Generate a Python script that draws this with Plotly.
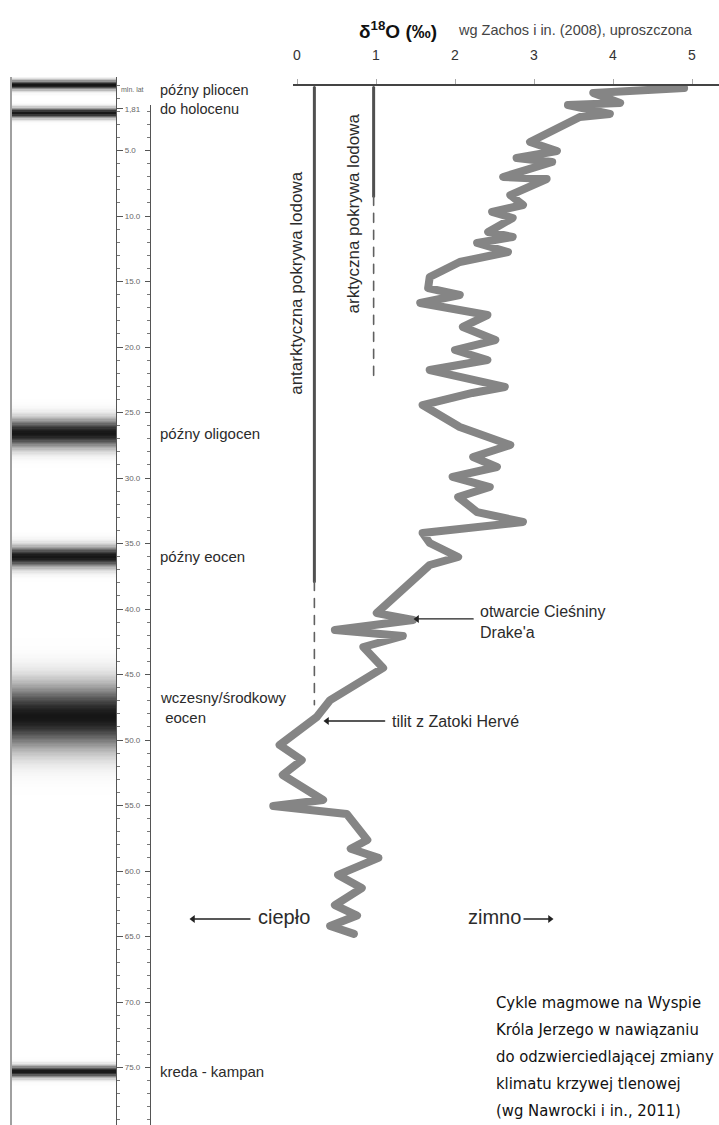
import numpy as np
import plotly.graph_objects as go

W, H = 719, 1125

# ---------------- data ----------------
# oxygen isotope curve (Zachos et al. 2008, simplified): age [Ma] and delta18O [permil]
age = [0.23, 0.61, 1.37, 1.53, 2.21, 2.44, 4.35, 5.04, 5.57, 5.88, 7.02, 7.18, 8.40, 9.16,
       9.69, 10.15, 11.22, 11.60, 12.06, 12.75, 13.51, 14.66, 15.50, 16.03, 16.64, 17.56,
       18.47, 19.47, 20.23, 20.99, 21.76, 23.05, 23.51, 24.43, 26.11, 27.48, 28.40, 29.16,
       29.92, 30.69, 31.45, 32.60, 33.36, 34.20, 34.96, 36.03, 36.64, 40.31, 40.84, 41.60,
       42.06, 42.90, 44.50, 46.95, 48.24, 49.47, 50.38, 51.53, 52.67, 54.58, 55.04, 55.65,
       57.63, 58.30, 59.00, 60.30, 61.30, 62.60, 63.40, 64.20, 64.80]
d18o = [4.90, 3.75, 4.09, 3.43, 3.96, 3.58, 2.95, 3.29, 2.78, 3.23, 2.61, 3.16, 2.70, 2.86,
        2.47, 2.73, 2.42, 2.73, 2.28, 2.67, 2.06, 1.68, 1.66, 2.06, 1.56, 2.41,
        2.10, 2.51, 2.00, 2.41, 1.68, 2.63, 2.22, 1.59, 2.06, 2.70, 2.23, 2.53,
        1.97, 2.44, 2.04, 2.28, 2.86, 1.59, 1.68, 2.04, 1.68, 1.01, 1.47, 0.48,
        1.34, 0.84, 1.09, 0.42, 0.25, 0.00, -0.22, 0.06, -0.18, 0.33, -0.30, 0.63,
        0.89, 0.68, 1.03, 0.52, 0.82, 0.48, 0.76, 0.42, 0.72]

# ice sheets
ice_labels = ["antarktyczna pokrywa lodowa", "arktyczna pokrywa lodowa"]
ice_delta = [0.22, 0.97]
ice_solid_end = [37.9, 8.5]
ice_dashed_end = [47.3, 22.5]
ice_label_age = [15.1, 9.8]

# magmatic cycles (bands in the left column): centre age [Ma], spread [Ma]
band_age = [0.0, 2.14, 26.6, 36.03, 48.24, 75.34]
band_spread = [0.25, 0.26, 0.75, 0.55, 1.7, 0.3]
band_labels = ["późny pliocen<br>do holocenu", "późny oligocen", "późny eocen",
               "wczesny/środkowy<br> eocen", "kreda - kampan"]
band_label_age = [1.1, 26.6, 36.03, 47.5, 75.34]

# events marked with arrows
event_labels = ["otwarcie Cieśniny<br>Drake'a", "tilit z Zatoki Hervé"]
event_age = [40.76, 48.55]
event_head = [1.52, 0.38]
event_tail = [2.23, 1.11]

# scales
age_ticks = [1.81, 5, 10, 15, 20, 25, 30, 35, 40, 45, 50, 55, 60, 65, 70, 75]
age_ticktext = ["1,81"] + [f"{v:.1f}" for v in age_ticks[1:]]
d18o_ticks = [0, 1, 2, 3, 4, 5]

caption = ["Cykle magmowe na Wyspie", "Króla Jerzego w nawiązaniu",
           "do odzwierciedlającej zmiany", "klimatu krzywej tlenowej",
           "(wg Nawrocki i in., 2011)"]

# ---------------- calibration of the page ----------------
Y_TOP_PX, AXIS_PX, PX_PER_MA = 77, 85, 13.1
X0_PX, PX_PER_UNIT = 297, 79
age_top = (Y_TOP_PX - AXIS_PX) / PX_PER_MA
age_bot = (H - AXIS_PX) / PX_PER_MA
ydom = [0, 1 - Y_TOP_PX / H]


def px(x):
    return x / W


def py(y):
    return 1 - y / H


def dx(xpix):
    return (xpix - X0_PX) / PX_PER_UNIT


def ay_(ypix):
    return (ypix - AXIS_PX) / PX_PER_MA


curve_dom_left = 150
curve_range = [dx(curve_dom_left), dx(W)]
disp_dom_left = 293
disp_range = [dx(disp_dom_left), dx(W)]

fig = go.Figure()

# left column: magmatic cycles as blurred bands
grid = np.arange(age_top, age_bot + 0.1, 0.1)
zcol = np.zeros_like(grid)
for c, s in zip(band_age, band_spread):
    zcol = np.maximum(zcol, np.exp(-0.5 * ((grid - c) / s) ** 2))
fig.add_trace(go.Heatmap(x=[0.5], y=grid, z=[[v] for v in zcol], xaxis="x2", yaxis="y",
                         colorscale=[[0, "#ffffff"], [1, "#161616"]], zmin=0, zmax=1,
                         showscale=False, hoverinfo="skip"))

# ice sheet lines
for d, se, de in zip(ice_delta, ice_solid_end, ice_dashed_end):
    fig.add_trace(go.Scatter(x=[d, d], y=[0.2, se], mode="lines",
                             line=dict(color="#505050", width=3), xaxis="x", yaxis="y",
                             hoverinfo="skip", showlegend=False))
    fig.add_trace(go.Scatter(x=[d, d], y=[se, de], mode="lines",
                             line=dict(color="#606060", width=1.6, dash="9px,8px"),
                             xaxis="x", yaxis="y", hoverinfo="skip", showlegend=False))

# oxygen isotope curve
fig.add_trace(go.Scatter(x=d18o, y=age, mode="lines",
                         line=dict(color="#858585", width=8),
                         xaxis="x", yaxis="y", hoverinfo="skip", showlegend=False))

# arrows (events + warm/cold)
arrow_age = event_age + [ay_(919), ay_(919)]
arrow_head = event_head + [dx(193), dx(550)]
arrow_tail = event_tail + [dx(250), dx(524)]
for a, h, t in zip(arrow_age, arrow_head, arrow_tail):
    sym = "triangle-left" if h < t else "triangle-right"
    fig.add_trace(go.Scatter(x=[t, h], y=[a, a], mode="lines",
                             line=dict(color="#222", width=1.3),
                             xaxis="x", yaxis="y", hoverinfo="skip", showlegend=False))
    fig.add_trace(go.Scatter(x=[h], y=[a], mode="markers",
                             marker=dict(symbol=sym, size=7, color="#222"),
                             xaxis="x", yaxis="y", hoverinfo="skip", showlegend=False))

# carriers for the display axes
for xa, ya in [("x3", "y"), ("x2", "y2"), ("x2", "y3")]:
    fig.add_trace(go.Scatter(x=[None], y=[None], xaxis=xa, yaxis=ya, mode="lines",
                             hoverinfo="skip", showlegend=False))

font_main = "Liberation Sans, Arial, sans-serif"
txt = "#2b2b2b"

fig.update_layout(
    width=W, height=H, margin=dict(l=0, r=0, t=0, b=0),
    paper_bgcolor="white", plot_bgcolor="rgba(0,0,0,0)",
    font=dict(family=font_main, color=txt),
    showlegend=False,
    xaxis=dict(domain=[px(curve_dom_left), 1], range=curve_range, visible=False,
               anchor="y"),
    xaxis2=dict(domain=[px(12), px(116)], range=[0, 1], visible=False, anchor="y"),
    xaxis3=dict(domain=[px(disp_dom_left), 1], range=disp_range, anchor="free",
                position=py(AXIS_PX), side="top", showline=True, linecolor="#444",
                linewidth=1.5, ticks="outside", ticklen=5, tickcolor="#aaa",
                tickvals=d18o_ticks, tickfont=dict(size=14, color="#333"),
                ticklabelstandoff=14, showgrid=False, zeroline=False),
    yaxis=dict(domain=ydom, range=[age_bot, age_top], anchor="x2", side="left",
               showline=True, linecolor="#a0a0a0", linewidth=2, ticks="",
               showticklabels=False, showgrid=False, zeroline=False),
    yaxis2=dict(overlaying="y", range=[age_bot, age_top], anchor="free", position=px(116),
                side="right", showline=True, linecolor="#555", linewidth=1.2,
                ticks="outside", ticklen=6, tickcolor="#555", tickvals=age_ticks,
                ticktext=age_ticktext, tickfont=dict(size=8, color="#666"),
                minor=dict(ticks="outside", ticklen=3, tickcolor="#777", tickmode="linear",
                           tick0=0, dtick=1),
                showgrid=False, zeroline=False),
    yaxis3=dict(domain=[0, py(105)], range=[age_bot, ay_(105)],
                anchor="free", position=px(150), side="left", showline=True,
                linecolor="#555", linewidth=1.2, ticks="outside", ticklen=5,
                tickcolor="#555", tickvals=age_ticks[1:], showticklabels=False,
                minor=dict(ticks="outside", ticklen=3, tickcolor="#777", tickmode="linear",
                           tick0=0, dtick=1),
                showgrid=False, zeroline=False),
)

ann = []


def ptext(xp, yp, text, size, color=txt, xanchor="left", **kw):
    ann.append(dict(x=px(xp), y=py(yp), xref="paper", yref="paper", showarrow=False,
                    xanchor=xanchor, yanchor="middle", align="left", text=text,
                    font=dict(size=size, color=color, **kw)))


# header
ptext(398, 30, "<b>δ<sup>18</sup>O (‰)</b>", 19, color="#111", xanchor="center")
ptext(456, 30, "wg Zachos i in. (2008), uproszczona", 14.5, color="#444")
ptext(119, 90, "mln. lat", 7, color="#666")

# band labels
for i, (t, a) in enumerate(zip(band_labels, band_label_age)):
    ptext(158, AXIS_PX + a * PX_PER_MA, t, 14.5 if i == 0 else 15)

# ice sheet labels
ann.append(dict(x=dx(297), y=ice_label_age[0], xref="x", yref="y", showarrow=False,
                xanchor="center", yanchor="middle",
                text=ice_labels[0], textangle=-90, font=dict(size=17, color=txt)))
ann.append(dict(x=dx(353), y=ice_label_age[1], xref="x", yref="y", showarrow=False,
                xanchor="center", yanchor="middle",
                text=ice_labels[1], textangle=-90, font=dict(size=17, color=txt)))

# event labels
ann.append(dict(x=dx(478), y=41.0, xref="x", yref="y", showarrow=False, xanchor="left",
                yanchor="middle", align="left", text=event_labels[0],
                font=dict(size=16, color=txt)))
ann.append(dict(x=dx(390), y=event_age[1], xref="x", yref="y", showarrow=False,
                xanchor="left", yanchor="middle", text=event_labels[1],
                font=dict(size=16, color=txt)))

# warm / cold
ptext(256, 917, "ciepło", 20)
ptext(466, 917, "zimno", 20)

# caption
for i, line in enumerate(caption):
    ptext(494, 1002 + 27 * i, line, 16.5, color="#111",
          family="DejaVu Sans Condensed, Liberation Sans Narrow, sans-serif")

fig.update_layout(annotations=ann)

post = ("document.body.style.margin='0';"
        "var ls=document.querySelectorAll('path.js-line');"
        "for(var i=0;i<ls.length;i++){ls[i].style.strokeLinejoin='round';"
        "ls[i].style.strokeLinecap='round';}")
fig.write_html("out.html", post_script=post, config={"displayModeBar": False})
